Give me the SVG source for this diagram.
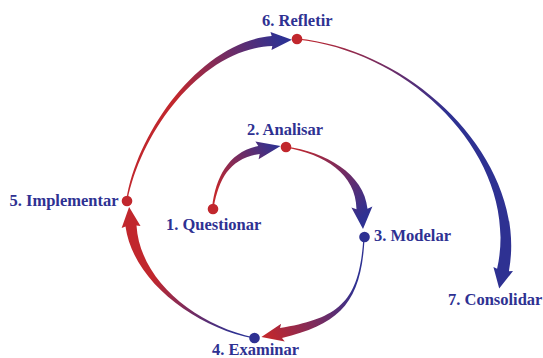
<svg xmlns="http://www.w3.org/2000/svg" width="543" height="358" viewBox="0 0 543 358">
<style>
.lbl{font-family:"Liberation Serif","Times New Roman",serif;font-weight:bold;font-size:16.5px;fill:#2e3192}
.red{fill:#c1272d}
.blue{fill:#2e3192}
</style>
<defs>
<linearGradient id="g1" gradientUnits="userSpaceOnUse" x1="213" y1="205" x2="278" y2="146"><stop offset="0" stop-color="#c1272d"/><stop offset="0.15" stop-color="#c1272d"/><stop offset="1" stop-color="#2e3192"/></linearGradient>
<linearGradient id="g2" gradientUnits="userSpaceOnUse" x1="295" y1="147" x2="362" y2="218"><stop offset="0" stop-color="#c1272d"/><stop offset="1" stop-color="#2e3192"/></linearGradient>
<linearGradient id="g3" gradientUnits="userSpaceOnUse" x1="355" y1="285" x2="268" y2="337"><stop offset="0" stop-color="#2e3192"/><stop offset="1" stop-color="#c1272d"/></linearGradient>
<linearGradient id="g4" gradientUnits="userSpaceOnUse" x1="235" y1="333" x2="155" y2="275"><stop offset="0" stop-color="#2e3192"/><stop offset="1" stop-color="#c1272d"/></linearGradient>
<linearGradient id="g5" gradientUnits="userSpaceOnUse" x1="175" y1="95" x2="282" y2="40"><stop offset="0" stop-color="#c1272d"/><stop offset="1" stop-color="#2e3192"/></linearGradient>
<linearGradient id="g6" gradientUnits="userSpaceOnUse" x1="300" y1="39" x2="450" y2="110"><stop offset="0" stop-color="#c1272d"/><stop offset="1" stop-color="#2e3192"/></linearGradient>
</defs>
<g id="connectors">
<path id="a1" fill="url(#g1)" d="M212.2,206.9 C215.72,177.03 228.87,151.96 258.3,146.1 L255.4,141.5 L280.6,146.1 L258.6,159.2 L259.7,153.9 C230.13,158.84 219.28,177.57 213.8,207.1 Z"/>
<path id="a2" fill="url(#g2)" d="M286.1,146.4 C325.03,151.52 364.25,173.8 367.5,208.73 L372.4,206.48 L363,229 L351.4,207.52 L356.5,209.28 C356.25,174.2 324.58,154.49 285.9,147.6 Z"/>
<path id="a3" fill="url(#g3)" d="M364.6,237 C361.75,302.05 340.4,323.94 282,337.9 L284.76,341.42 L261.4,337 L281.16,323.78 L280,328.1 C339.2,318.06 359.75,301.95 363.4,237 Z"/>
<path id="a4" fill="url(#g4)" d="M253.9,338.6 C194.94,327.27 133.02,281.05 125.5,226.55 L121.65,227.95 L129.1,207.1 L140.55,226.05 L136.5,225.45 C139.98,280.35 195.46,324.73 254.1,337.4 Z"/>
<path id="a5" fill="url(#g5)" d="M126.4,199.9 C137.22,130.38 201.94,41.57 271.71,36.01 L270.48,32.08 L291.96,39.84 L271.52,50.04 L272.29,45.99 C202.34,48.55 141.18,131.02 127.6,200.1 Z"/>
<path id="a6" fill="url(#g6)" d="M297.06,38.4 C415.95,49.4 528.9,163 508.9,271.2 L513,271.02 L499.2,288.6 L493.4,267.02 L497.1,268.8 C521.1,161.4 415.65,52.4 296.94,39.6 Z"/>
</g>
<g id="n1"><circle class="red" cx="213" cy="209" r="5.3"/><text class="lbl" x="166" y="230">1. Questionar</text></g>
<g id="n2"><circle class="red" cx="286" cy="147" r="5.3"/><text class="lbl" x="247" y="135">2. Analisar</text></g>
<g id="n3"><circle class="blue" cx="364.5" cy="237" r="5.3"/><text class="lbl" x="374" y="241">3. Modelar</text></g>
<g id="n4"><circle class="blue" cx="254.5" cy="338" r="5.3"/><text class="lbl" x="212" y="354.5">4. Examinar</text></g>
<g id="n5"><circle class="red" cx="127" cy="201" r="5.3"/><text class="lbl" x="9.5" y="206">5. Implementar</text></g>
<g id="n6"><circle class="red" cx="297" cy="39" r="5.3"/><text class="lbl" x="262" y="26">6. Refletir</text></g>
<g id="n7"><text class="lbl" x="448" y="305">7. Consolidar</text></g>
</svg>
